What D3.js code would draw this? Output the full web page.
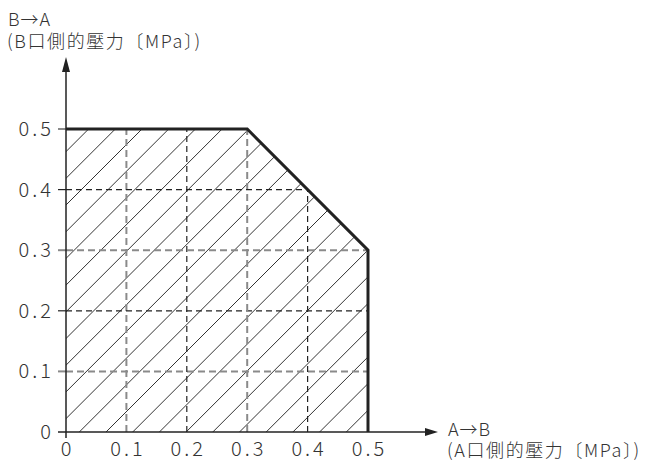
<!DOCTYPE html>
<html><head><meta charset="utf-8">
<script src="https://cdn.jsdelivr.net/npm/d3@7"></script>
<style>
body{margin:0;background:#fff;}
text{font-family:"Noto Sans CJK JP","Noto Sans",sans-serif;fill:#333;font-weight:300;}
</style></head><body>
<svg id="c" width="651" height="461"></svg>
<script>
// ---- data ----
const tickValues = [0, 0.1, 0.2, 0.3, 0.4, 0.5];
const tickLabels = ["0", "0.1", "0.2", "0.3", "0.4", "0.5"];
const regionX = [0, 0, 0.3, 0.5, 0.5];
const regionY = [0, 0.5, 0.5, 0.3, 0];
const yTitle = ["B→A", "(B口側的壓力〔MPa〕)"];
const xTitle = ["A→B", "(A口側的壓力〔MPa〕)"];

const svg = d3.select("#c");
const x = d3.scaleLinear().domain([0, 0.5]).range([66, 368]);
const y = d3.scaleLinear().domain([0, 0.5]).range([432, 129]);

const pts = regionX.map((v, i) => [x(v), y(regionY[i])]);
const line = d3.line();

svg.append("defs").append("clipPath").attr("id", "reg")
  .append("path").attr("d", line(pts) + "Z");

// hatching
const hatch = svg.append("g").attr("clip-path", "url(#reg)");
const step = 26.7, off = 13.3;
for (let k = -20; k < 30; k++) {
  const x0 = x(0) + off + k * step;
  hatch.append("line")
    .attr("x1", x0).attr("y1", y(0))
    .attr("x2", x0 + 400).attr("y2", y(0) - 400)
    .attr("stroke", "#333").attr("stroke-width", 1);
}

// gridlines (clipped)
const isOdd = (i) => i % 2 === 1;
const gStyle = (sel, i) => sel
  .attr("stroke", isOdd(i) ? "#8a8a8a" : "#222")
  .attr("stroke-width", isOdd(i) ? 2 : 1.2)
  .attr("stroke-dasharray", isOdd(i) ? "7,4" : "6,4");
const grid = svg.append("g").attr("clip-path", "url(#reg)");
tickValues.forEach((v, i) => {
  if (i === 0 || i === tickValues.length - 1) return;
  grid.append("line").attr("x1", x(v)).attr("x2", x(v)).attr("y1", y(0)).attr("y2", y(0.5)).call(gStyle, i);
  grid.append("line").attr("x1", x(0)).attr("x2", x(0.5)).attr("y1", y(v)).attr("y2", y(v)).call(gStyle, i);
});
// y ticks left of axis
tickValues.forEach((v, i) => {
  if (i === 0) return;
  svg.append("line").attr("x1", x(0) - 8).attr("x2", x(0)).attr("y1", y(v)).attr("y2", y(v)).call(gStyle, i)
    .attr("stroke-dasharray", null);
});

// axes
svg.append("line").attr("x1", x(0)).attr("x2", x(0)).attr("y1", y(0) + 6).attr("y2", 70)
  .attr("stroke", "#222").attr("stroke-width", 1.5);
svg.append("path").attr("d", "M" + x(0) + ",57 L" + (x(0) - 4) + ",72 L" + (x(0) + 4) + ",72 Z").attr("fill", "#222");
svg.append("line").attr("x1", x(0) - 8).attr("x2", 428).attr("y1", y(0)).attr("y2", y(0))
  .attr("stroke", "#222").attr("stroke-width", 1.5);
svg.append("path").attr("d", "M438," + y(0) + " L425," + (y(0) - 4) + " L425," + (y(0) + 4) + " Z").attr("fill", "#222");

// boundary
svg.append("path").attr("d", line(pts.slice(1)))
  .attr("fill", "none").attr("stroke", "#222").attr("stroke-width", 3).attr("stroke-linejoin", "miter");

// tick labels
const fs = 20;
svg.append("g").selectAll("text").data(tickValues).join("text")
  .attr("x", 54).attr("y", d => y(d) + 7).attr("text-anchor", "end")
  .attr("font-size", fs).attr("letter-spacing", 3).text((d, i) => tickLabels[i]);
svg.append("g").selectAll("text").data(tickValues).join("text")
  .attr("x", d => x(d) + 1.5).attr("y", 456).attr("text-anchor", "middle")
  .attr("font-size", fs).attr("letter-spacing", 3).text((d, i) => tickLabels[i]);

// titles
svg.append("text").attr("x", 8).attr("y", 26).attr("font-size", 18).attr("letter-spacing", 1).text(yTitle[0]);
svg.append("text").attr("x", 7).attr("y", 48).attr("font-size", 18).attr("letter-spacing", 1.6).text(yTitle[1]);
svg.append("text").attr("x", 448).attr("y", 436).attr("font-size", 18).attr("letter-spacing", 1).text(xTitle[0]);
svg.append("text").attr("x", 447).attr("y", 457).attr("font-size", 18).attr("letter-spacing", 1.6).text(xTitle[1]);
</script></body></html>
